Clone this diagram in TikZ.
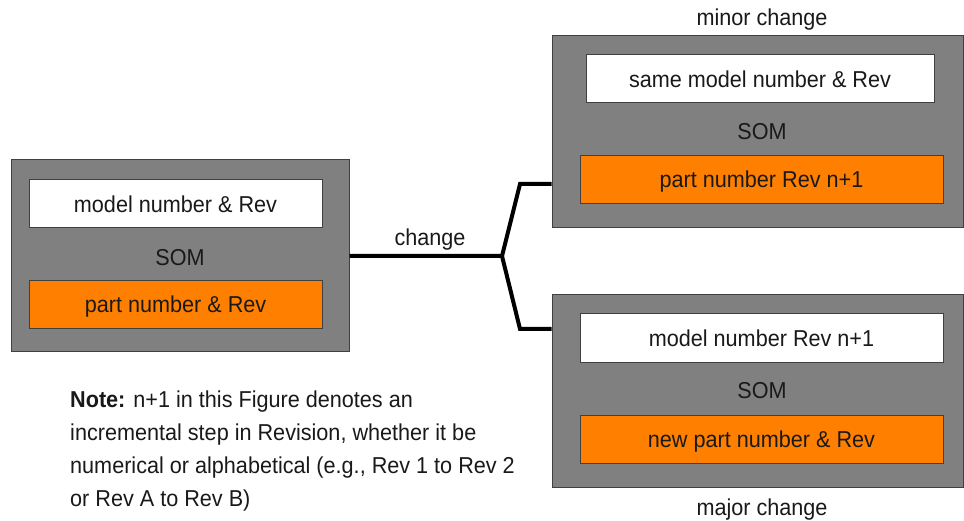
\documentclass[tikz,border=0pt]{standalone}
\usepackage{fontspec}
\setmainfont[FakeStretch=0.94]{Liberation Sans}
\begin{document}
\begin{tikzpicture}[x=1pt,y=-1pt,
  every node/.style={font=\fontsize{23}{33}\selectfont, text=black!90, inner sep=0pt},
  outerbox/.style={draw=black!75, line width=1pt, fill=gray50, minimum width=#1, minimum height=192},
  whitebox/.style={draw=black!75, line width=1pt, fill=white, minimum width=#1, minimum height=48, text height=18pt, text depth=1.4pt},
  orangebox/.style={draw=black!75, line width=1pt, fill=orng, minimum width=#1, minimum height=48, text height=18pt, text depth=1.4pt},
  lbl/.style={text height=18pt, text depth=1.4pt},
  conn/.style={line width=4pt, black, line join=miter}
]
\definecolor{gray50}{RGB}{128,128,128}
\definecolor{orng}{RGB}{255,128,0}
\useasboundingbox (0,0) rectangle (964,521);
% left block
\node[outerbox=338] (left) at (180,256) {};
\node[whitebox=293] (lw) at (175.5,204) {model number \& Rev};
\node[lbl] (ls) at (180,257) {SOM};
\node[orangebox=293] (lo) at (175.5,304.5) {part number \& Rev};
% top right block
\node[outerbox=411] (tr) at (757.5,132) {};
\node[whitebox=348] (tw) at (760,79) {same model number \& Rev};
\node[lbl] (ts) at (762,131) {SOM};
\node[orangebox=363] (to) at (761.5,179.5) {part number Rev n+1};
\node[lbl] (tt) at (762,17) {minor change};
% bottom right block
\node[outerbox=411] (br) at (757.5,391) {};
\node[whitebox=363] (bw) at (761.5,338) {model number Rev n+1};
\node[lbl] (bs) at (762,390) {SOM};
\node[orangebox=363] (bo) at (761.5,439) {new part number \& Rev};
\node[lbl] (bt) at (762,507) {major change};
% connectors
\coordinate (j) at (502,256);
\coordinate (ta) at (520,184);
\coordinate (ba) at (520,329);
\draw[conn] (left.east) -- (j) -- (ta) -- (ta -| tr.west);
\draw[conn] (j) -- (ba) -- (ba -| br.west);
\node[lbl] (chg) at (430,237) {change};
% note
\node[anchor=base west, align=left] (note) at (70,506)
  {\textbf{Note:} n+1 in this Figure denotes an\\
   incremental step in Revision, whether it be\\
   numerical or alphabetical (e.g., Rev 1 to Rev 2\\
   or Rev A to Rev B)};
\end{tikzpicture}
\end{document}
